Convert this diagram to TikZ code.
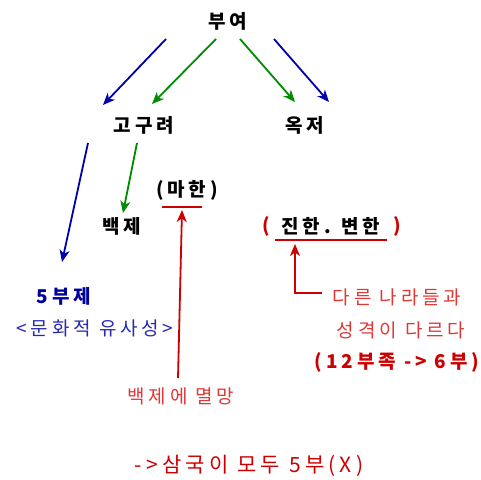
\documentclass[tikz,border=0pt]{standalone}
\usepackage{fontspec}
\usetikzlibrary{arrows.meta}
\newfontfamily\kr[LetterSpace=20]{Noto Sans CJK KR}
\definecolor{arrblue}{RGB}{0,0,170}
\definecolor{arrgreen}{RGB}{0,140,0}
\definecolor{arrred}{RGB}{204,0,0}
\definecolor{txtred}{RGB}{225,55,55}
\definecolor{txtdred}{RGB}{204,0,0}
\definecolor{txtblue}{RGB}{0,0,160}
\definecolor{txtblue2}{RGB}{40,40,180}
\begin{document}
\begin{tikzpicture}[x=1pt,y=-1pt,
  lbl/.style={inner sep=0pt,font=\kr\fontsize{19}{22}\selectfont},
  blk/.style={lbl,font=\kr\bfseries\fontsize{19}{22}\selectfont},
  arr/.style={line width=1.8pt,-{Stealth[length=12pt,width=10pt,inset=3.5pt]}}]
\useasboundingbox (0,0) rectangle (481,479);
\fill[white] (0,0) rectangle (481,479);
% nodes
\node[blk] (buyeo) at (228,21) {부여};
\node[blk] (goguryeo) at (144,125) {고구려};
\node[blk] (okjeo) at (305,125) {옥저};
\node[blk] (baekje) at (122,226) {백제};
\node[blk] (mahan) at (187,190) {(마한)};
\node[blk] (jinbyeon) at (331,226) {진한. 변한};
\node[blk,text=arrred] (lp) at (266,226) {(};
\node[blk,text=arrred] (rp) at (397,226) {)};
\node[blk,text=txtblue] (obuje) at (64,296) {5부제};
\node[lbl,text=txtblue2] (munhwa) at (95,328) {<문화적 유사성>};
\node[lbl,text=txtred] (dareun) at (397,297) {다른 나라들과};
\node[lbl,text=txtred] (seong) at (401,330) {성격이 다르다};
\node[blk,text=txtdred] (bujok) at (397,362) {(12부족 -> 6부)};
\node[lbl,text=txtred] (myeol) at (181,396) {백제에 멸망};
\node[lbl,text=txtdred,font=\kr\fontsize{21}{24}\selectfont] (samguk) at (249,466) {->삼국이 모두 5부(X)};
% underlines
\coordinate (mhL) at (162,207); \coordinate (mhR) at (202,207);
\coordinate (jbL) at (275,240); \coordinate (jbR) at (387,240);
\draw[arrred,line width=1.8pt] (mhL) -- (mhR);
\draw[arrred,line width=1.8pt] (jbL) -- (jbR);
% arrows
\coordinate (a1s) at (166,39); \coordinate (a1e) at (103,105);
\coordinate (a2s) at (216,39); \coordinate (a2e) at (152,104);
\coordinate (a3s) at (240,39); \coordinate (a3e) at (295,102);
\coordinate (a4s) at (274,39); \coordinate (a4e) at (329,102);
\coordinate (a5s) at (88,143); \coordinate (a5e) at (62,262);
\coordinate (a6s) at (137,143); \coordinate (a6e) at (123,213);
\coordinate (a7s) at (178,378); \coordinate (a7e) at (182,210);
\coordinate (a8s) at (322,293); \coordinate (a8c) at (295,293); \coordinate (a8e) at (295,244);
\draw[arr,arrblue] (a1s) -- (a1e);
\draw[arr,arrgreen] (a2s) -- (a2e);
\draw[arr,arrgreen] (a3s) -- (a3e);
\draw[arr,arrblue] (a4s) -- (a4e);
\draw[arr,arrblue] (a5s) -- (a5e);
\draw[arr,arrgreen] (a6s) -- (a6e);
\draw[arr,arrred] (a7s) -- (a7e);
\draw[arr,arrred] (a8s) -- (a8c) -- (a8e);
\end{tikzpicture}
\end{document}
